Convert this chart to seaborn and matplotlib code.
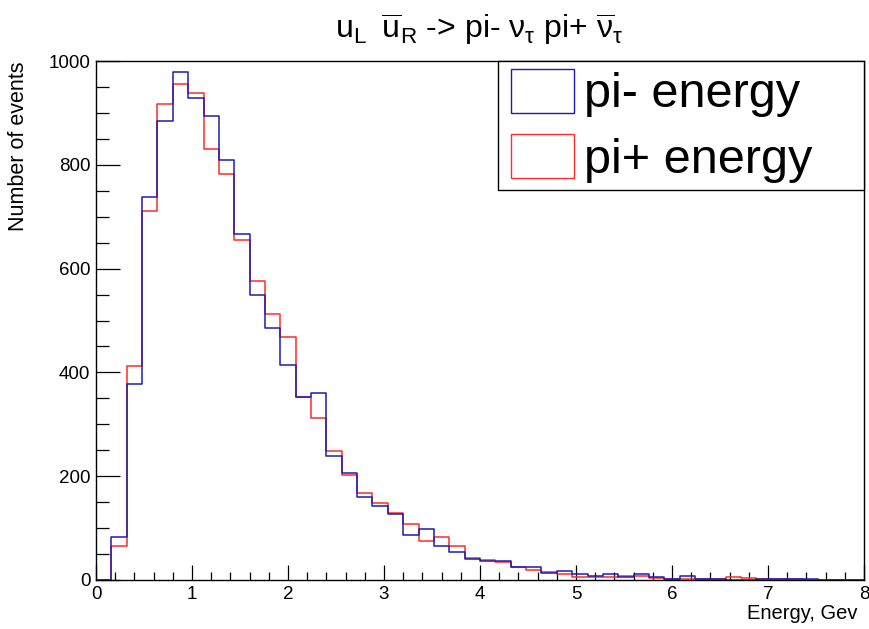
import numpy as np
import pandas as pd
import matplotlib
matplotlib.use("Agg")
import matplotlib.pyplot as plt
import seaborn as sns
from matplotlib.patches import Patch
from matplotlib.legend_handler import HandlerPatch
from matplotlib.ticker import MultipleLocator

# 50 bins of width 0.16 GeV between 0 and 8
n_bins = 50
energy_range = (0, 8)
bin_centers = np.linspace(0.08, 7.92, n_bins)

pi_minus_counts = [0, 82, 378, 737, 885, 978, 928, 894, 809, 666,
                   549, 486, 414, 353, 360, 239, 206, 159, 143, 127,
                   87, 98, 66, 53, 41, 37, 37, 26, 26, 13,
                   18, 11, 8, 11, 6, 11, 5, 1, 8, 1,
                   1, 0, 0, 2, 2, 2, 2, 0, 0, 0]
pi_plus_counts = [0, 66, 413, 711, 918, 956, 938, 831, 783, 655,
                  576, 512, 468, 353, 313, 249, 203, 167, 149, 130,
                  108, 76, 82, 66, 42, 39, 34, 26, 19, 16,
                  12, 5, 6, 5, 7, 7, 3, 2, 2, 1,
                  1, 5, 3, 1, 1, 1, 0, 0, 0, 0]

labels = ["pi- energy", "pi+ energy"]
colors = ["#1c1cb4", "#ff2a2a"]

df = pd.DataFrame({
    "energy": np.concatenate([bin_centers, bin_centers]),
    "count": pi_minus_counts + pi_plus_counts,
    "particle": [labels[0]] * n_bins + [labels[1]] * n_bins,
})

sns.set_style("white")
plt.rcParams["font.family"] = ["Liberation Sans", "DejaVu Sans"]

fig = plt.figure(figsize=(8.69, 6.29), dpi=100)
ax = fig.add_axes([96 / 869, 49 / 629, 768 / 869, 519 / 629])

# red first so the blue outline sits on top
for lab, col in [(labels[1], colors[1]), (labels[0], colors[0])]:
    sub = df[df["particle"] == lab]
    sns.histplot(data=sub, x="energy", weights="count", bins=n_bins,
                 binrange=energy_range, element="step", fill=False,
                 color=col, linewidth=1.1, ax=ax)

ax.set_xlim(0, 8)
ax.set_ylim(0, 1000)
ax.xaxis.set_major_locator(MultipleLocator(1))
ax.xaxis.set_minor_locator(MultipleLocator(0.2))
ax.yaxis.set_major_locator(MultipleLocator(200))
ax.yaxis.set_minor_locator(MultipleLocator(50))
ax.tick_params(axis="x", which="major", direction="in", length=11, width=0.9,
               labelsize=13.5, pad=4, bottom=True, top=False,
               color="black", labelcolor="black")
ax.tick_params(axis="x", which="minor", direction="in", length=5.8, width=0.9,
               bottom=True, top=False, color="black")
ax.tick_params(axis="y", which="major", direction="in", length=17, width=0.9,
               labelsize=13.5, pad=4, left=True, right=False,
               color="black", labelcolor="black")
ax.tick_params(axis="y", which="minor", direction="in", length=9.4, width=0.9,
               left=True, right=False, color="black")
for sp in ax.spines.values():
    sp.set_color("black")
    sp.set_linewidth(1.0)

ax.set_xlabel("Energy, Gev", fontsize=14.5, loc="right", color="black")
ax.xaxis.set_label_coords(0.991, -0.047)
ax.set_ylabel("Number of events", fontsize=15.5, loc="top", color="black")
ax.yaxis.set_label_coords(-0.087, 1.0)

fig.text(479 / 869, 1 - 29 / 629,
         r"$\mathregular{u_L\ \,\overline{u}_R}$ -> pi- $\mathregular{ν_τ}$ pi+ $\mathregular{\overline{ν}_τ}$",
         ha="center", va="center", fontsize=23, color="black")

handles = [Patch(facecolor="none", edgecolor=colors[0], linewidth=1.0, label=labels[0]),
           Patch(facecolor="none", edgecolor=colors[1], linewidth=1.0, label=labels[1])]
leg = ax.legend(handles=handles, loc="upper left",
                bbox_to_anchor=(498 / 869, 1 - 189 / 629, 366 / 869, 128 / 629),
                bbox_transform=fig.transFigure, mode="expand", borderaxespad=0,
                fontsize=35, handlelength=1.4, handleheight=1.02, handletextpad=0.2,
                borderpad=0.16, labelspacing=0.34, fancybox=False, framealpha=1,
                edgecolor="black",
                handler_map={Patch: HandlerPatch(xpad=0.1)})
leg.get_frame().set_linewidth(1.0)
for t in leg.get_texts():
    t.set_color("black")

fig.savefig("out.png", dpi=100)
